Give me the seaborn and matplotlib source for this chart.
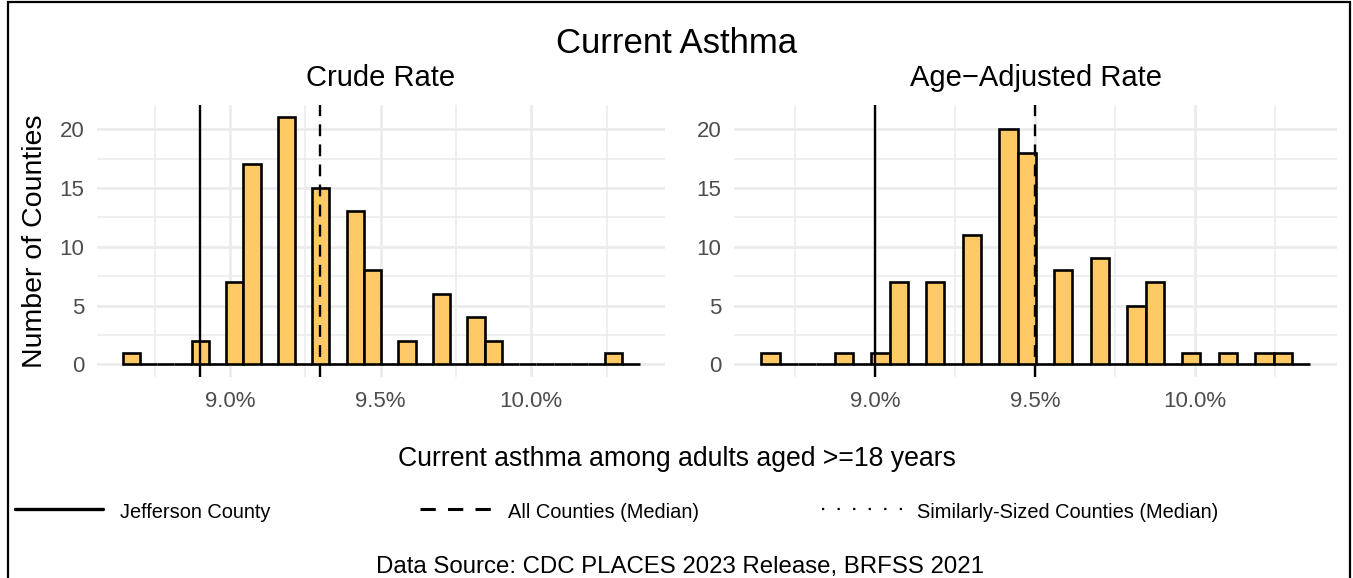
import numpy as np
import pandas as pd
import matplotlib
matplotlib.use("Agg")
import matplotlib.pyplot as plt
import seaborn as sns
from matplotlib.lines import Line2D
from matplotlib.patches import Rectangle
from matplotlib.ticker import FuncFormatter

# ---------------- data ----------------
chart_title = "Current Asthma"
panel_titles = ["Crude Rate", "Age\u2212Adjusted Rate"]
x_label = "Current asthma among adults aged >=18 years"
y_label = "Number of Counties"
source_note = "Data Source: CDC PLACES 2023 Release, BRFSS 2021"
legend_labels = ["Jefferson County", "All Counties (Median)",
                 "Similarly-Sized Counties (Median)"]

bin_start = 8.644      # left edge of the first histogram bin (%)
bin_width = 0.0572     # histogram bin width (%)
crude_counts = [1, 0, 0, 0, 2, 0, 7, 17, 0, 21, 0, 15, 0, 13, 8,
                0, 2, 0, 6, 0, 4, 2, 0, 0, 0, 0, 0, 0, 1, 0]
age_adj_counts = [1, 0, 0, 0, 1, 0, 1, 7, 0, 7, 0, 11, 0, 20, 18,
                  0, 8, 0, 9, 0, 5, 7, 0, 1, 0, 1, 0, 1, 1, 0]
jefferson_rate = [8.9, 9.0]          # crude, age-adjusted
all_counties_median = [9.3, 9.5]     # crude, age-adjusted
x_ticks = [9.0, 9.5, 10.0]
x_minor = [8.75, 9.25, 9.75, 10.25]
y_ticks = [0, 5, 10, 15, 20]
y_minor = [2.5, 7.5, 12.5, 17.5]

# ---------------- style ----------------
sns.set_style("white")
plt.rcParams['font.family'] = ['Liberation Sans', 'DejaVu Sans']
plt.rcParams['text.color'] = 'black'
plt.rcParams['axes.labelcolor'] = 'black'
plt.rcParams['axes.titlecolor'] = 'black'
FILL = "#FFC966"
GRID = "#EBEBEB"
TICKC = "#4D4D4D"

W, H = 1353, 578
fig = plt.figure(figsize=(W / 100, H / 100), dpi=100)
fig.patch.set_facecolor("white")

def fx(x):
    return x / W

def fy(y):
    return 1 - y / H

panel_top, panel_bot = 105.0, 376.7
ax1 = fig.add_axes([fx(96.7), fy(panel_bot), (665 - 96.7) / W, (panel_bot - panel_top) / H])
ax2 = fig.add_axes([fx(734), fy(panel_bot), (1337 - 734) / W, (panel_bot - panel_top) / H])

n_bins = len(crude_counts)
edges = [bin_start + bin_width * k for k in range(n_bins + 1)]
centers = [e + bin_width / 2 for e in edges[:-1]]

for i, (ax, counts) in enumerate([(ax1, crude_counts), (ax2, age_adj_counts)]):
    df = pd.DataFrame({"rate": centers, "n": counts})
    sns.histplot(data=df, x="rate", weights="n", bins=edges, ax=ax, color=FILL,
                 edgecolor="black", linewidth=1.9, alpha=1)
    ax.axvline(jefferson_rate[i], color="black", lw=1.7, ls="-", zorder=5)
    ax.axvline(all_counties_median[i], color="black", lw=1.7,
               ls=(0, (5, 3.5)), zorder=5)
    ax.set_xlim(8.558, 10.444)
    ax.set_ylim(-1.05, 22.05)
    ax.set_xticks(x_ticks)
    ax.set_xticks(x_minor, minor=True)
    ax.set_yticks(y_ticks)
    ax.set_yticks(y_minor, minor=True)
    ax.xaxis.set_major_formatter(FuncFormatter(lambda v, p: f"{v:.1f}%"))
    ax.grid(which="major", color=GRID, lw=1.9)
    ax.grid(which="minor", color=GRID, lw=1.1)
    ax.set_axisbelow(True)
    ax.tick_params(which="both", length=0, labelsize=16, labelcolor=TICKC)
    ax.tick_params(axis="x", pad=10)
    ax.tick_params(axis="y", pad=9)
    for s in ax.spines.values():
        s.set_visible(False)
    ax.set_xlabel("")
    ax.set_ylabel("")
    ax.set_facecolor("white")
    ax.set_title(panel_titles[i], fontsize=21, pad=14, color="black")

ax1.set_ylabel(y_label, fontsize=20.5, labelpad=8, color="black")

fig.text(0.5, fy(53), chart_title, ha="center", va="baseline", fontsize=25)
fig.text(0.5, fy(466.5), x_label, ha="center", va="baseline", fontsize=19.2)
fig.text(fx(680), fy(573), source_note, ha="center", va="baseline", fontsize=17.3)

# legend (drawn in figure coordinates)
ly = fy(508.5)
styles = [dict(ls="-", lw=2.4),
          dict(ls=(0, (5, 4)), lw=2.2),
          dict(ls=(0, (1, 6)), lw=1.6)]
line_x = [(15, 103), (420, 495), (822, 905)]
text_x = [120, 508, 917]
for lab, st, (x0, x1), tx in zip(legend_labels, styles, line_x, text_x):
    fig.add_artist(Line2D([fx(x0), fx(x1)], [ly, ly], transform=fig.transFigure,
                          color="black", **st))
    fig.text(fx(tx), fy(517.5), lab, ha="left", va="baseline", fontsize=14.4)

# outer border
fig.add_artist(Rectangle((fx(7.5), -0.1), fx(1350 - 7.5), 0.1 + fy(1.5),
                         transform=fig.transFigure, fill=False,
                         edgecolor="black", lw=1.6))

fig.savefig("out.png", dpi=100)
